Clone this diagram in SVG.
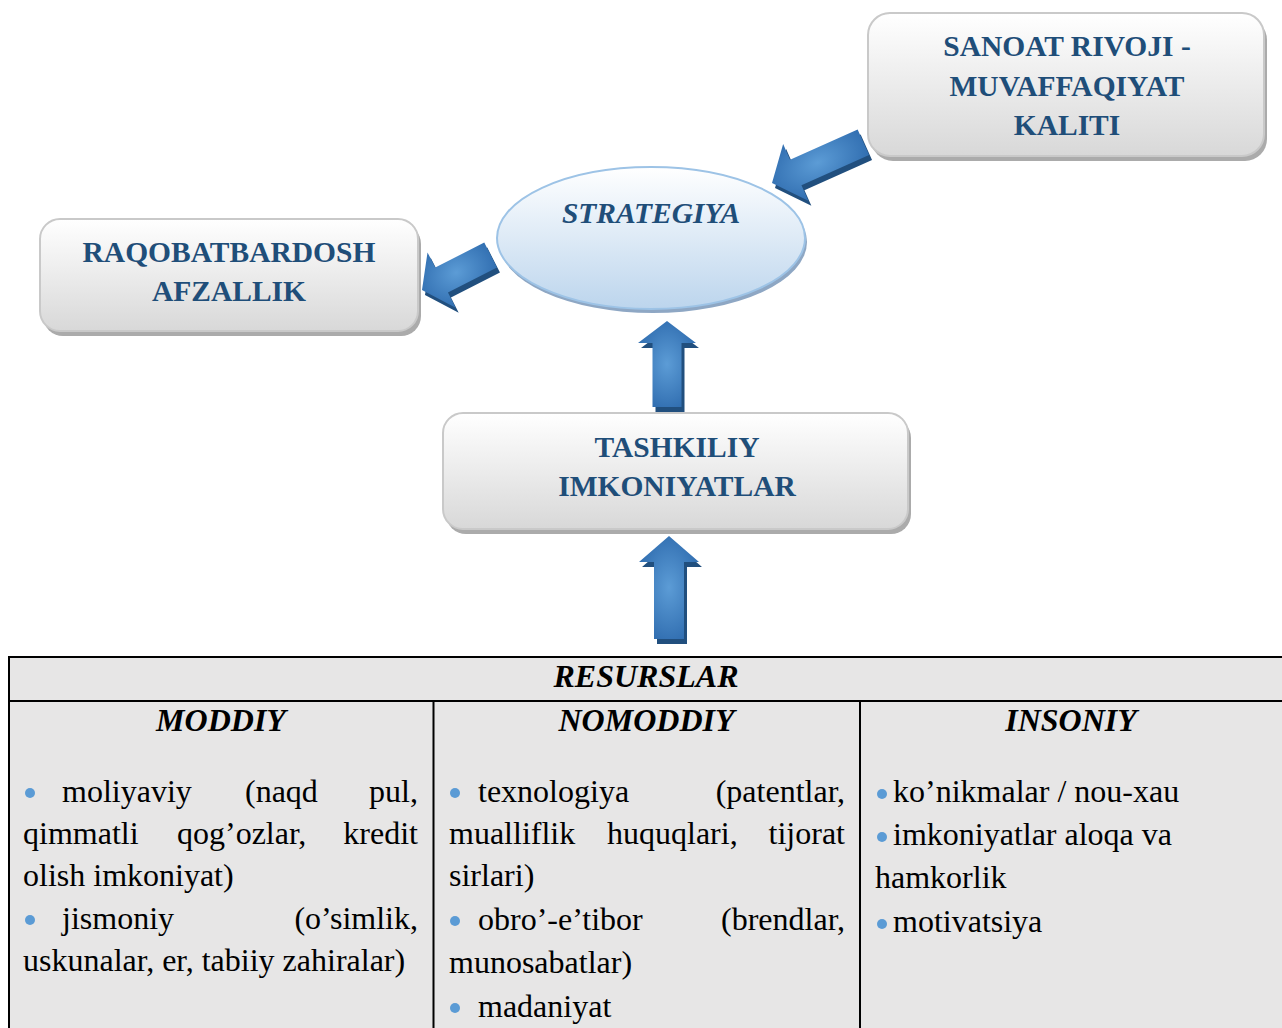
<svg xmlns="http://www.w3.org/2000/svg" xmlns:xlink="http://www.w3.org/1999/xlink" width="1282" height="1028" viewBox="0 0 1282 1028">
  <style>
    .box { fill: url(#boxFill); stroke: #C9C9C9; stroke-width: 2; }
    .boxShadow { fill: #ABABAB; }
    .title { font-family: "Liberation Serif", "Times New Roman", serif; font-size: 29.5px; font-weight: bold; fill: #1F4E79; text-anchor: middle; }
    .head { font-family: "Liberation Serif", "Times New Roman", serif; font-size: 32px; font-weight: bold; font-style: italic; fill: #000; text-anchor: middle; }
    .body { font-family: "Liberation Serif", "Times New Roman", serif; font-size: 32px; fill: #000; }
    .end { text-anchor: end; }
    .dot { fill: #5B9BD5; }
    .arrowFace { fill: url(#arrowFill); }
    .arrowSide { fill: #214F7E; }
    .grid { fill: none; stroke: #000; stroke-width: 2; }
  </style>
  <defs>
    <linearGradient id="boxFill" x1="0" y1="0" x2="0" y2="1">
      <stop offset="0" stop-color="#FFFFFF"/>
      <stop offset="1" stop-color="#D8D8D8"/>
    </linearGradient>
    <linearGradient id="ovalFill" x1="0" y1="0" x2="0" y2="1">
      <stop offset="0" stop-color="#FFFFFF"/>
      <stop offset="1" stop-color="#BCD5ED"/>
    </linearGradient>
    <radialGradient id="arrowFill" cx="0.5" cy="0.5" r="0.6">
      <stop offset="0" stop-color="#5C9CD6"/>
      <stop offset="1" stop-color="#2D6AAD"/>
    </radialGradient>
    <!-- block arrows drawn pointing +x with the tip at the origin -->
    <path id="a1" d="M0,0 L-26,-31 L-26,-14 L-100,-14 L-100,14 L-26,14 L-26,31 Z"/>
    <path id="a2" d="M0,0 L-22,-31 L-22,-14 L-77,-14 L-77,14 L-22,14 L-22,31 Z"/>
    <path id="a3" d="M0,0 L-22,-29 L-22,-14.5 L-86,-14.5 L-86,14.5 L-22,14.5 L-22,29 Z"/>
    <path id="a4" d="M0,0 L-26,-30 L-26,-15 L-103,-15 L-103,15 L-26,15 L-26,30 Z"/>
  </defs>

  <rect width="1282" height="1028" fill="#FFFFFF"/>

  <!-- connectors: 3D block arrows -->
  <g id="connectors">
    <g id="arrow-sanoat-strategiya">
      <g transform="translate(3,5)"><use xlink:href="#a1" class="arrowSide" transform="translate(772,183) rotate(156)"/></g>
      <use xlink:href="#a1" class="arrowFace" transform="translate(772,183) rotate(156)"/>
    </g>
    <g id="arrow-strategiya-raqobat">
      <g transform="translate(3,5)"><use xlink:href="#a2" class="arrowSide" transform="translate(422,290) rotate(153)"/></g>
      <use xlink:href="#a2" class="arrowFace" transform="translate(422,290) rotate(153)"/>
    </g>
    <g id="arrow-tashkiliy-strategiya">
      <g transform="translate(3,5)"><use xlink:href="#a3" class="arrowSide" transform="translate(667,321) rotate(-90)"/></g>
      <use xlink:href="#a3" class="arrowFace" transform="translate(667,321) rotate(-90)"/>
    </g>
    <g id="arrow-resurslar-tashkiliy">
      <g transform="translate(3,5)"><use xlink:href="#a4" class="arrowSide" transform="translate(669,536) rotate(-90)"/></g>
      <use xlink:href="#a4" class="arrowFace" transform="translate(669,536) rotate(-90)"/>
    </g>
  </g>

  <g id="node-sanoat">
    <rect class="boxShadow" x="871" y="18" width="396" height="143" rx="22"/>
    <rect class="box" x="868" y="13" width="396" height="143" rx="22"/>
    <text class="title" x="1067" y="56">SANOAT RIVOJI -</text>
    <text class="title" x="1067" y="96">MUVAFFAQIYAT</text>
    <text class="title" x="1067" y="135">KALITI</text>
  </g>

  <g id="node-strategiya">
    <ellipse cx="653" cy="242" rx="154" ry="71" fill="#8EA7C4"/>
    <ellipse cx="651" cy="238" rx="154" ry="71" fill="url(#ovalFill)" stroke="#9DC3E6" stroke-width="2"/>
    <text class="title" x="651" y="223" font-style="italic">STRATEGIYA</text>
  </g>

  <g id="node-raqobat">
    <rect class="boxShadow" x="43" y="224" width="378" height="112" rx="20"/>
    <rect class="box" x="40" y="219" width="378" height="112" rx="20"/>
    <text class="title" x="229" y="262">RAQOBATBARDOSH</text>
    <text class="title" x="229" y="301">AFZALLIK</text>
  </g>

  <g id="node-tashkiliy">
    <rect class="boxShadow" x="446" y="418" width="465" height="116" rx="20"/>
    <rect class="box" x="443" y="413" width="465" height="116" rx="20"/>
    <text class="title" x="677" y="457">TASHKILIY</text>
    <text class="title" x="677" y="496">IMKONIYATLAR</text>
  </g>

  <!-- resources table -->
  <g id="node-resurslar">
    <rect x="9" y="657" width="1290" height="400" fill="#E7E6E6"/>
    <path class="grid" d="M9,1040 V657 H1290 M9,701 H1290 M433.5,701 V1040 M860,701 V1040"/>
    <text class="head" x="646" y="687">RESURSLAR</text>
    <text class="head" x="221" y="731">MODDIY</text>
    <text class="head" x="646.5" y="731">NOMODDIY</text>
    <text class="head" x="1071" y="731">INSONIY</text>

    <g id="col-moddiy">
      <circle class="dot" cx="30" cy="793" r="5"/>
      <text class="body" x="62" y="802">moliyaviy</text>
      <text class="body" x="245" y="802">(naqd</text>
      <text class="body end" x="418" y="802">pul,</text>
      <text class="body" x="23" y="844">qimmatli</text>
      <text class="body" x="177" y="844">qog’ozlar,</text>
      <text class="body end" x="418" y="844">kredit</text>
      <text class="body" x="23" y="886">olish imkoniyat)</text>
      <circle class="dot" cx="30" cy="920" r="5"/>
      <text class="body" x="62" y="929">jismoniy</text>
      <text class="body end" x="418" y="929">(o’simlik,</text>
      <text class="body" x="23" y="971">uskunalar, er, tabiiy zahiralar)</text>
    </g>

    <g id="col-nomoddiy">
      <circle class="dot" cx="455" cy="793" r="5"/>
      <text class="body" x="478" y="802">texnologiya</text>
      <text class="body end" x="845" y="802">(patentlar,</text>
      <text class="body" x="449" y="844">mualliflik</text>
      <text class="body" x="607" y="844">huquqlari,</text>
      <text class="body end" x="845" y="844">tijorat</text>
      <text class="body" x="449" y="886">sirlari)</text>
      <circle class="dot" cx="455" cy="921" r="5"/>
      <text class="body" x="478" y="930">obro’-e’tibor</text>
      <text class="body end" x="845" y="930">(brendlar,</text>
      <text class="body" x="449" y="973">munosabatlar)</text>
      <circle class="dot" cx="455" cy="1008" r="5"/>
      <text class="body" x="478" y="1017">madaniyat</text>
    </g>

    <g id="col-insoniy">
      <circle class="dot" cx="882" cy="794" r="5"/>
      <text class="body" x="893" y="802">ko’nikmalar / nou-xau</text>
      <circle class="dot" cx="882" cy="837" r="5"/>
      <text class="body" x="893" y="845">imkoniyatlar aloqa va</text>
      <text class="body" x="875" y="888">hamkorlik</text>
      <circle class="dot" cx="882" cy="924" r="5"/>
      <text class="body" x="893" y="932">motivatsiya</text>
    </g>
  </g>
</svg>
